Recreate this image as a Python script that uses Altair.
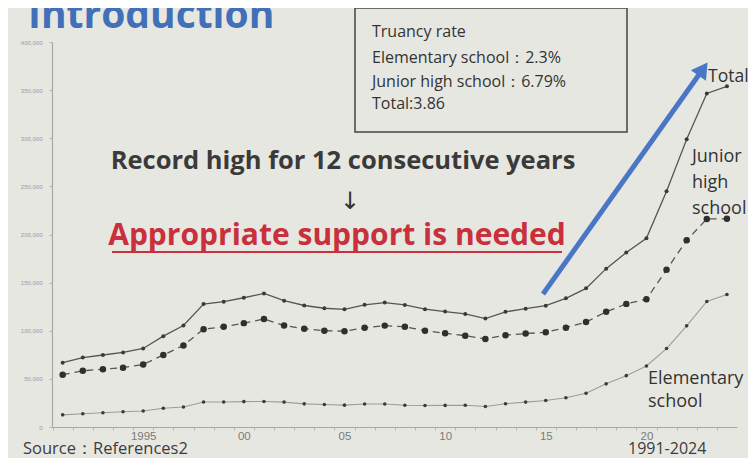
import altair as alt
import pandas as pd

# ---------------- data ----------------
years = list(range(1991, 2025))
elementary = [12645, 13710, 14769, 15786, 16569, 19498, 20765, 26017, 26047, 26373,
              26511, 25869, 24077, 23318, 22709, 23825, 23927, 22652, 22327, 22463,
              22622, 21243, 24175, 25864, 27583, 30448, 35032, 44841, 53350, 63350,
              81498, 105112, 130370, 137704]
junior_high = [54172, 58421, 60039, 61663, 65022, 74853, 84701, 101675, 104180, 107913,
               112211, 105383, 102149, 100040, 99578, 103069, 105328, 104153, 100105, 97428,
               94836, 91446, 95442, 97033, 98408, 103235, 108999, 119687, 127922, 132777,
               163442, 193936, 216112, 216266]
total = [66817, 72131, 74808, 77449, 81591, 94351, 105466, 127692, 130227, 134286,
         138722, 131252, 126226, 123358, 122287, 126894, 129255, 126805, 122432, 119891,
         117458, 112689, 119617, 122897, 125991, 133683, 144031, 164528, 181272, 196127,
         244940, 299048, 346482, 353970]
series_names = ["Total", "Junior high school", "Elementary school"]
y_ticks = [0, 50000, 100000, 150000, 200000, 250000, 300000, 350000, 400000]

box_lines = ["Truancy rate", "Elementary school：2.3%", "Junior high school：6.79%", "Total:3.86"]

rows = []
for name, vals in zip(series_names, [total, junior_high, elementary]):
    for yr, v in zip(years, vals):
        rows.append({"year": yr, "count": v, "series": name})
df = pd.DataFrame(rows)

FONT = "Open Sans"
BG = "#e7e7e2"

x_scale = alt.Scale(domain=[1990.47, 2024.5], nice=False, zero=False)
y_scale = alt.Scale(domain=[0, 400000], nice=False)

x_axis = alt.Axis(
    values=years,
    labelExpr="datum.value % 5 == 0 ? (datum.value == 1995 ? '1995' : substring(toString(datum.value), 2, 4)) : ''",
    labelOverlap=False, labelFlush=False,
    tickOffset=-10, labelOffset=10,
    tickSize=3, tickColor="#b5b5b5", domainColor="#a8a8a8", domainWidth=1.2,
    labelColor="#7a7a7a", labelFontSize=11.5, labelFont="Liberation Sans", labelPadding=0,
    grid=False, title=None,
)
y_axis = alt.Axis(
    values=y_ticks, format=",d",
    tickSize=3, tickColor="#b0b0b0", domainColor="#a8a8a8", domainWidth=1.2,
    labelColor="#9a9aa8", labelFontSize=6, labelFont="Liberation Sans", labelPadding=7,
    grid=False, title=None,
)

base = alt.Chart(df).encode(
    x=alt.X("year:Q", scale=x_scale, axis=x_axis),
    y=alt.Y("count:Q", scale=y_scale, axis=y_axis),
)

def sel(name):
    return base.transform_filter(alt.datum.series == name)

total_line = sel("Total").mark_line(color="#555555", strokeWidth=1.3)
total_pts = sel("Total").mark_circle(size=16, color="#3a3a3a", opacity=1)
jh_line = sel("Junior high school").mark_line(color="#555555", strokeWidth=1.3, strokeDash=[7, 5])
jh_pts = sel("Junior high school").mark_circle(size=42, color="#2f2f2f", opacity=1)
el_line = sel("Elementary school").mark_line(color="#9c9c9c", strokeWidth=1.1)
el_pts = sel("Elementary school").mark_circle(size=13, color="#3a3a3a", opacity=1)

one = alt.Data(values=[{}])

def txt(text, x, y, size, color="#333333", weight="normal", align="left", baseline="alphabetic", line_height=None, font=FONT):
    kw = dict(fontSize=size, color=color, fontWeight=weight, align=align, baseline=baseline, font=font)
    if line_height is not None:
        kw["lineHeight"] = line_height
    return alt.Chart(one).mark_text(**kw).encode(
        x=alt.value(x), y=alt.value(y), text=alt.value(text)
    )

title = txt("Introduction", -24, -14, 39, color="#4170b8", weight="bold")

box = alt.Chart(one).mark_rect(filled=False, stroke="#444444", strokeWidth=1.5).encode(
    x=alt.value(303), y=alt.value(-34), x2=alt.value(575), y2=alt.value(90)
)
box_texts = [txt(t, 320, yy, 16) for t, yy in zip(box_lines, [-5, 21, 45, 67])]

record = txt("Record high for 12 consecutive years", 291, 127, 25.5, color="#3a3a3a", weight="bold", align="center")
arrow_down = txt("↓", 298, 160, 24, color="#333333", align="center", baseline="middle", font="DejaVu Sans")
support = txt("Appropriate support is needed", 285, 203, 30, color="#c8303c", weight="bold", align="center")
underline = alt.Chart(one).mark_rule(color="#c8303c", strokeWidth=2).encode(
    x=alt.value(60), x2=alt.value(510), y=alt.value(210)
)

blue_shaft = alt.Chart(one).mark_rule(color="#4a76c6", strokeWidth=5).encode(
    x=alt.value(491), y=alt.value(252), x2=alt.value(651), y2=alt.value(27)
)
blue_head = alt.Chart(one).mark_point(shape="triangle-up", size=340, filled=True, color="#4a76c6", opacity=1, angle=35).encode(
    x=alt.value(651), y=alt.value(27)
)

lab_total = txt("Total", 656, 40, 17.5)
lab_jh = txt(["Junior", "high", "school"], 640, 120, 18, line_height=26)
lab_el = txt(["Elementary", "school"], 596, 342, 18, line_height=23)

source = txt("Source：References2", -29, 412, 16.5, color="#3c3c3c")
period = txt("1991-2024", 576, 412, 16, color="#3c3c3c")

chart = alt.layer(
    el_line, el_pts, jh_line, jh_pts, total_line, total_pts,
    title, box, *box_texts, record, arrow_down, support, underline,
    blue_shaft, blue_head, lab_total, lab_jh, lab_el, source, period,
).properties(
    width=685, height=385,
    autosize=alt.AutoSizeParams(type="none"),
    padding={"left": 44, "top": 34, "right": 11, "bottom": 31},
    background=BG,
).configure_view(strokeWidth=0)

chart.save("out.html", embed_options={"renderer": "svg", "actions": False})
